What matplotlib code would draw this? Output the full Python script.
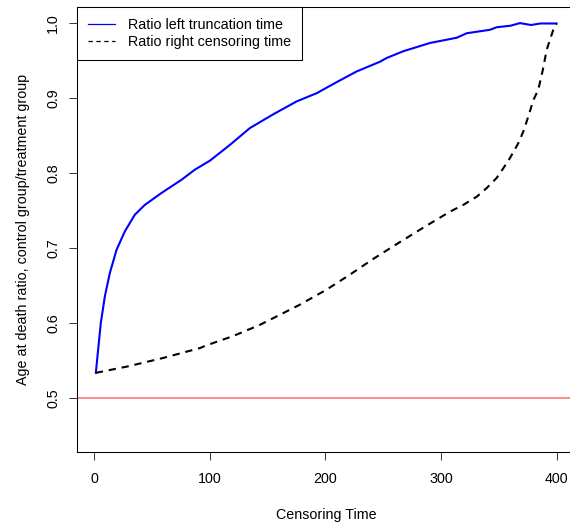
import matplotlib
matplotlib.use("Agg")
import matplotlib.pyplot as plt

plt.rcParams["font.family"] = ["Liberation Sans", "DejaVu Sans"]

# values
left_time = [1.3, 3.3, 5.6, 9.1, 13.4, 19.2, 26.4, 35.1, 43.7, 58.2, 75.5, 87, 100,
             117.3, 134.6, 155, 175, 192.4, 210, 227, 247.2, 253, 267.4, 290.5,
             313.6, 322.3, 342.4, 348.2, 360, 368.4, 378, 386, 393, 400]
left_ratio = [0.534, 0.565, 0.6005, 0.636, 0.667, 0.698, 0.7227, 0.745, 0.758, 0.774,
              0.7916, 0.805, 0.817, 0.838, 0.8605, 0.879, 0.896, 0.907, 0.922, 0.936,
              0.949, 0.954, 0.963, 0.974, 0.981, 0.987, 0.9916, 0.995, 0.997, 1.0005,
              0.998, 1.0, 1.0, 1.0]

right_time = [1.3, 29.3, 60, 91.3, 97.1, 120, 143.3, 160, 178, 201, 221.2, 241.4, 263,
              285, 307.8, 319.3, 331, 339.6, 348.2, 354, 359.7, 367, 371.3, 375.6,
              380, 384.2, 388, 391.5, 397.2, 400]
right_ratio = [0.534, 0.5427, 0.554, 0.567, 0.5707, 0.583, 0.598, 0.611, 0.625, 0.645,
               0.665, 0.686, 0.707, 0.728, 0.749, 0.758, 0.769, 0.7805, 0.794, 0.807,
               0.8205, 0.8405, 0.856, 0.876, 0.898, 0.9116, 0.937, 0.965, 0.9916, 1.0]

ref_level = 0.5
x_ticks = [0, 100, 200, 300, 400]
y_ticks = [0.5, 0.6, 0.7, 0.8, 0.9, 1.0]
y_tick_labels = ["0.5", "0.6", "0.7", "0.8", "0.9", "1.0"]

fs = 10.3
fig = plt.figure(figsize=(5.70, 5.29), dpi=100)
ax = fig.add_axes([77 / 570, 76.7 / 529, (575 - 77) / 570, (452.3 - 7) / 529])

ax.plot(left_time, left_ratio, color="blue", lw=1.5, label="Ratio left truncation time")
ax.plot(right_time, right_ratio, color="black", lw=1.5, ls=(0, (3.5, 2.8)),
        label="Ratio right censoring time")
ax.axhline(ref_level, color="#FF6B6B", lw=1.1)

ax.set_xlim(-15, 416)
ax.set_ylim(0.428, 1.022)
ax.set_xticks(x_ticks)
ax.set_yticks(y_ticks)
ax.set_yticklabels(y_tick_labels, rotation=90, va="center")
ax.tick_params(length=6, width=0.7, labelsize=fs, color="#333333")
ax.tick_params(axis="x", pad=8)
ax.tick_params(axis="y", pad=6)
ax.spines["right"].set_visible(False)
for s in ax.spines.values():
    s.set_linewidth(0.75)

ax.set_xlabel("Censoring Time", fontsize=fs, labelpad=16)
ax.set_ylabel("Age at death ratio, control group/treatment group", fontsize=fs, labelpad=12)

leg_lines = ax.get_lines()[:2]
leg = ax.legend(leg_lines, [l.get_label() for l in leg_lines], loc="upper left",
                bbox_to_anchor=(0, 1), borderaxespad=0, fancybox=False,
                edgecolor="black", framealpha=1, fontsize=fs, handlelength=1.9,
                handletextpad=0.95, labelspacing=0.25, borderpad=0.75)
leg.get_frame().set_linewidth(0.75)
for h in leg.get_lines():
    h.set_linewidth(0.9)

fig.savefig("out.png", dpi=100, facecolor="white")
